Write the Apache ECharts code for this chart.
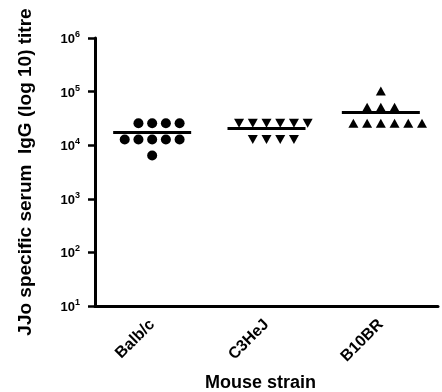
<!DOCTYPE html>
<html><head><meta charset="utf-8">
<script src="https://cdn.jsdelivr.net/npm/echarts@6/dist/echarts.min.js"></script>
<style>html,body{margin:0;padding:0;background:#fff}#c{width:442px;height:392px}</style>
</head><body><div id="c"></div>
<script>
var categories = ['Balb/c', 'C3HeJ', 'B10BR'];
var balbc = [25600, 25600, 25600, 25600, 12800, 12800, 12800, 12800, 12800, 6400];
var c3hej = [25600, 25600, 25600, 25600, 25600, 25600, 12800, 12800, 12800, 12800];
var b10br = [102400, 51200, 51200, 51200, 25600, 25600, 25600, 25600, 25600, 25600];
var yTickExponents = [1, 2, 3, 4, 5, 6];
var symbols = ['circle', 'triangle', 'triangle'];
var rotations = [0, 180, 0];
var groups = [balbc, c3hej, b10br];

var FONT = 'Liberation Sans, Arial, sans-serif';
var SPACING = 0.12; // column-scatter spread (axis units) between equal values

function spread(values, idx) {
  var counts = {}, out = [];
  values.forEach(function (v) {
    var k = counts[v] || 0; counts[v] = k + 1;
    var off = k === 0 ? 0 : (k % 2 === 1 ? (k + 1) / 2 : -k / 2);
    out.push([idx + 0.5 + off * SPACING, v]);
  });
  return out;
}
function mean(a) { return a.reduce(function (s, v) { return s + v; }, 0) / a.length; }

var series = groups.map(function (g, i) {
  return {
    type: 'scatter', xAxisIndex: 1, data: spread(g, i),
    symbol: symbols[i], symbolRotate: rotations[i],
    symbolSize: symbols[i] === 'circle' ? 10 : [10, 9],
    itemStyle: { color: '#000', opacity: 1 }, silent: true
  };
});
series.push({
  type: 'scatter', xAxisIndex: 1, silent: true,
  data: groups.map(function (g, i) { return [i + 0.5, mean(g)]; }),
  symbol: 'rect', symbolSize: [78, 3], itemStyle: { color: '#000', opacity: 1 }, z: 1
});

var chart = echarts.init(document.getElementById('c'), null, { renderer: 'canvas' });
chart.setOption({
  animation: false,
  backgroundColor: '#fff',
  grid: { left: 95, right: 4, top: 38, bottom: 86, containLabel: false, outerBoundsMode: 'none' },
  xAxis: [{
    type: 'category', data: categories, boundaryGap: true,
    axisLine: { lineStyle: { color: '#000', width: 3 } },
    axisTick: { show: false },
    axisLabel: { rotate: 45, margin: 16, color: '#000', fontWeight: 'bold', fontSize: 16, fontFamily: FONT },
    name: 'Mouse strain', nameLocation: 'middle', nameGap: 68,
    nameTextStyle: { color: '#000', fontWeight: 'bold', fontSize: 18, fontFamily: FONT, padding: [0, 12, 0, 0] }
  }, {
    type: 'value', min: 0, max: 3, show: false
  }],
  yAxis: {
    type: 'log', logBase: 10, min: 10, max: 1000000,
    splitLine: { show: false },
    axisLine: { show: true, lineStyle: { color: '#000', width: 3 } },
    axisTick: { show: true, length: 7, lineStyle: { color: '#000', width: 2.5 } },
    axisLabel: {
      margin: 15,
      formatter: function (v) {
        var e = Math.round(Math.log10(v));
        return yTickExponents.indexOf(e) >= 0 ? '{b|10}{s|' + e + '}' : '';
      },
      rich: {
        b: { fontSize: 13, fontWeight: 'bold', color: '#000', fontFamily: FONT, lineHeight: 16, verticalAlign: 'bottom' },
        s: { fontSize: 9, fontWeight: 'bold', color: '#000', fontFamily: FONT, lineHeight: 16, verticalAlign: 'top', padding: [0, 0, 6, 0] }
      }
    },
    name: 'JJo specific serum  IgG (log 10) titre', nameLocation: 'middle', nameGap: 60,
    nameTextStyle: { color: '#000', fontWeight: 'bold', fontSize: 19, fontFamily: FONT }
  },
  series: series
});
</script></body></html>
